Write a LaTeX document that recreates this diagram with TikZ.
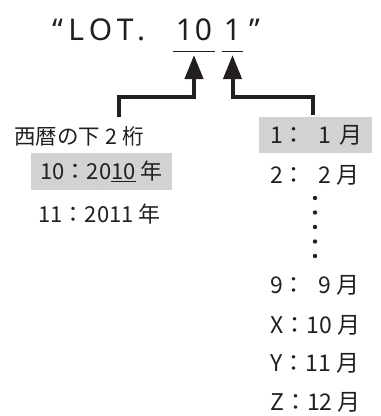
\documentclass[tikz,border=0pt]{standalone}
\usepackage{fontspec}
\usetikzlibrary{arrows.meta}
\newfontfamily\jpfont{Noto Sans CJK JP}
\newfontfamily\titlefont[LetterSpace=18]{Noto Sans}
\newfontfamily\digitfont{Noto Sans}
\definecolor{ink}{HTML}{231F20}
\definecolor{boxgray}{HTML}{D1D2D3}

\begin{document}
\begin{tikzpicture}[x=1pt,y=1pt,
 txt/.style={font=\jpfont\fontsize{22}{22}\selectfont, text=ink, inner sep=0},
 mtxt/.style={txt, font=\jpfont\fontsize{23}{23}\selectfont},
 ttl/.style={font=\titlefont\fontsize{30}{30}\selectfont, text=ink, inner sep=0, anchor=base},
 dgt/.style={font=\digitfont\fontsize{30}{30}\selectfont, text=ink, inner sep=0, anchor=base},
 conn/.style={ink, line width=4pt, -{Triangle[width=18pt,length=24pt]}},
 uline/.style={ink, line width=0.8pt},
 hilite/.style={fill=boxgray, inner ysep=0}]
\useasboundingbox (0,0) rectangle (381,-416);

% title
\node[ttl, anchor=base west] (lot) at (52,-40) {“LOT.};
\node[dgt, minimum width=42pt] (d10) at (194,-40) {1\kern2pt0};
\node[dgt, minimum width=21pt] (d1) at (232.5,-40) {1};
\node[ttl, anchor=base west] (rq) at (249,-40) {”};
\draw[uline] ([yshift=-11pt]d10.base west) -- ([yshift=-11pt]d10.base east);
\draw[uline] ([yshift=-11pt]d1.base west) -- ([yshift=-11pt]d1.base east);
\coordinate (ytip) at ([yshift=-15pt]d10.base);
\coordinate (mtip) at ([yshift=-15pt]d1.base);

% year (left)
\node[txt, font=\jpfont\fontsize{21.5}{22}\selectfont] (yr) at (79,-136) {西暦の下 2 桁};
\node[txt, hilite, minimum width=141pt, minimum height=37pt] (y10) at (101.5,-171.5) {10：20\underline{10} 年};
\node[txt] (y11) at (99.5,-214) {11：2011 年};
\coordinate (yfoot) at (119,-117);
\draw[conn] (yfoot) -- ++(0,20) -| (ytip);

% month (right)
\node[mtxt, hilite, anchor=west, inner xsep=11pt, text width=91pt, minimum height=36pt] (m1) at (259,-135) {\mbox{1：\phantom{1}1 月}};
\foreach \k/\t/\yy in {m2/2：\phantom{1}2 月/175, m9/9：\phantom{1}9 月/285, mx/X：10 月/325, my/Y：11 月/363, mz/Z：12 月/402}
 \node[mtxt, anchor=west] (\k) at (270,-\yy) {\t};
\foreach \i in {0,...,4}
 \fill[ink] (315,-198-14.5*\i) circle (2.2pt);
\coordinate (mfoot) at (313,-115);
\draw[conn] (mfoot) -- ++(0,18) -| (mtip);
\end{tikzpicture}
\end{document}
